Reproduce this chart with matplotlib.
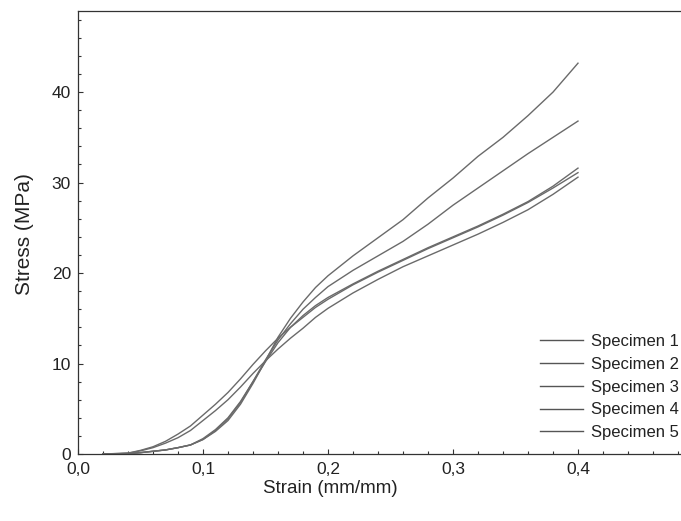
import matplotlib
matplotlib.use("Agg")
import matplotlib.pyplot as plt
from matplotlib.ticker import MultipleLocator, FuncFormatter

plt.rcParams["font.family"] = ["Liberation Sans", "DejaVu Sans"]

# strain values (mm/mm), shared by all specimens
strain = [0.02, 0.04, 0.05, 0.06, 0.07, 0.08, 0.09, 0.10, 0.11, 0.12, 0.13,
          0.14, 0.15, 0.16, 0.17, 0.18, 0.19, 0.20, 0.22, 0.24, 0.26, 0.28,
          0.30, 0.32, 0.34, 0.36, 0.38, 0.40]

# stress (MPa)
specimen_1 = [0, 0.05, 0.15, 0.3, 0.45, 0.7, 1.0, 1.6, 2.5, 3.7, 5.5,
              7.8, 10.3, 12.9, 15.0, 16.8, 18.4, 19.7, 21.9, 23.9, 25.9, 28.3,
              30.5, 32.9, 35.0, 37.4, 40.0, 43.2]
specimen_2 = [0, 0.05, 0.15, 0.3, 0.45, 0.7, 1.0, 1.6, 2.6, 3.9, 5.7,
              8.0, 10.4, 12.6, 14.4, 16.0, 17.3, 18.5, 20.3, 21.9, 23.5, 25.4,
              27.5, 29.4, 31.3, 33.2, 35.0, 36.8]
specimen_3 = [0, 0.05, 0.15, 0.3, 0.45, 0.7, 1.0, 1.7, 2.7, 4.0, 5.8,
              8.0, 10.2, 12.3, 14.0, 15.3, 16.4, 17.3, 18.8, 20.2, 21.5, 22.8,
              24.0, 25.2, 26.5, 27.9, 29.6, 31.6]
specimen_4 = [0, 0.1, 0.4, 0.8, 1.4, 2.2, 3.1, 4.3, 5.5, 6.8, 8.3,
              9.9, 11.4, 12.8, 14.0, 15.1, 16.2, 17.1, 18.7, 20.1, 21.4, 22.7,
              23.9, 25.1, 26.4, 27.8, 29.4, 31.1]
specimen_5 = [0, 0.08, 0.35, 0.7, 1.2, 1.8, 2.6, 3.7, 4.8, 6.0, 7.4,
              8.9, 10.3, 11.6, 12.8, 13.9, 15.1, 16.1, 17.8, 19.3, 20.7, 21.9,
              23.1, 24.3, 25.6, 27.0, 28.7, 30.6]

labels = ["Specimen 1", "Specimen 2", "Specimen 3", "Specimen 4", "Specimen 5"]
series = [specimen_1, specimen_2, specimen_3, specimen_4, specimen_5]

fig = plt.figure(figsize=(6.81, 5.21), dpi=100)
ax = fig.add_axes([0.1145, 0.1286, 0.8855, 0.850])

for y, lab in zip(series, labels):
    ax.plot(strain, y, color="#6a6a6a", lw=1.0, label=lab)

ax.set_xlim(0, 0.4824)
ax.set_ylim(0, 48.95)
ax.xaxis.set_major_locator(MultipleLocator(0.1))
ax.xaxis.set_minor_locator(MultipleLocator(0.02))
ax.yaxis.set_major_locator(MultipleLocator(10))
ax.yaxis.set_minor_locator(MultipleLocator(2))
ax.xaxis.set_major_formatter(FuncFormatter(lambda v, p: f"{v:.1f}".replace(".", ",")))
ax.yaxis.set_major_formatter(FuncFormatter(lambda v, p: f"{v:.0f}"))

ax.tick_params(which="both", direction="in", colors="#333333", labelcolor="#222222",
               labelsize=12.5)
ax.tick_params(which="major", length=3.5, width=0.8)
ax.tick_params(which="minor", length=2, width=0.8)
ax.tick_params(axis="x", pad=6)
ax.tick_params(axis="y", pad=5)
ax.spines["right"].set_visible(False)
for s in ["left", "bottom", "top"]:
    ax.spines[s].set_color("#333333")
    ax.spines[s].set_linewidth(0.9)

fig.text(0.4846, 0.063, "Strain (mm/mm)", ha="center", va="center",
         fontsize=13.5, color="#222222")
fig.text(0.0367, 0.55, "Stress (MPa)", ha="center", va="center",
         rotation=90, fontsize=15, color="#222222")

leg = ax.legend(loc="center left", bbox_to_anchor=(0.793, 0.257),
                bbox_transform=fig.transFigure, frameon=False, fontsize=12,
                handlelength=2.6, handletextpad=0.45, labelspacing=0.47,
                borderpad=0, borderaxespad=0)
for h in leg.get_lines():
    h.set_color("#555555")
for t in leg.get_texts():
    t.set_color("#222222")

fig.savefig("out.png", dpi=100)
